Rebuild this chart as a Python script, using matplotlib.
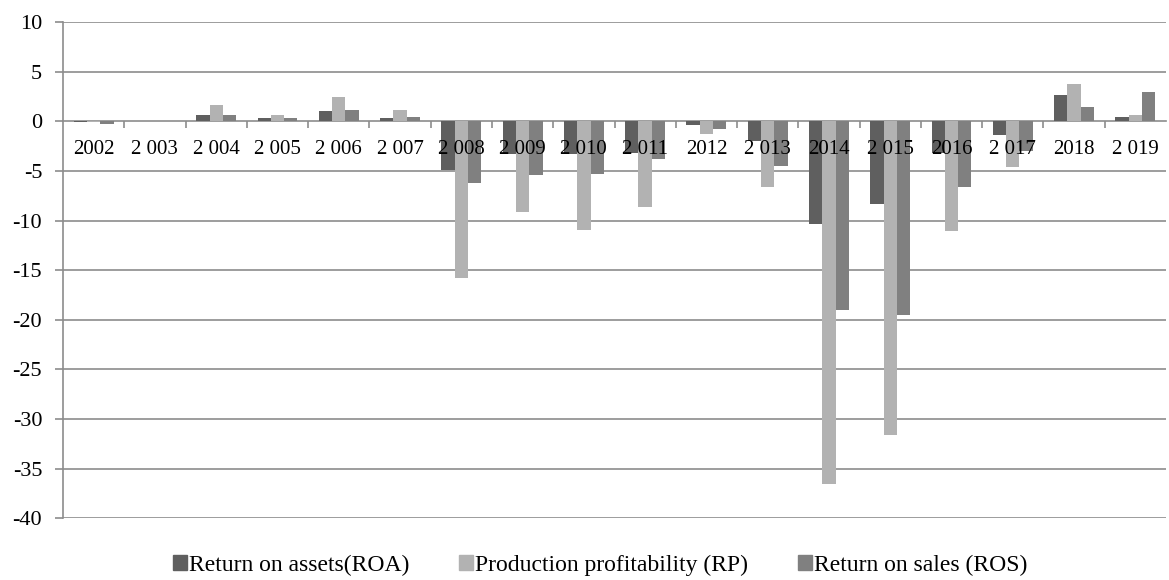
import numpy as np
import matplotlib.pyplot as plt
from matplotlib.patches import Patch

# Profitability indicators by year, %
years = ["2002", "2 003", "2 004", "2 005", "2 006", "2 007", "2 008", "2 009", "2 010",
         "2 011", "2012", "2 013", "2014", "2 015", "2016", "2 017", "2018", "2 019"]
roa = [-0.05, 0, 0.64, 0.3, 1.04, 0.37, -4.95, -3.3, -3.3,
       -3.2, -0.35, -2.0, -10.4, -8.3, -3.2, -1.35, 2.66, 0.44]
rp = [-0.1, 0, 1.62, 0.67, 2.46, 1.14, -15.8, -9.16, -10.94,
      -8.65, -1.3, -6.6, -36.5, -31.6, -11.1, -4.6, 3.74, 0.6]
ros = [-0.25, 0, 0.6, 0.34, 1.1, 0.44, -6.2, -5.45, -5.35,
       -3.83, -0.74, -4.5, -19.0, -19.5, -6.6, -3.0, 1.42, 2.96]

series = [("Return on assets(ROA)", roa, "#5f5f5f"),
          ("Production profitability (RP)", rp, "#b2b2b2"),
          ("Return on sales (ROS)", ros, "#808080")]

plt.rcParams["font.family"] = ["Liberation Serif", "DejaVu Serif"]

W, H = 1169, 580
fig = plt.figure(figsize=(W / 100, H / 100), dpi=100)
ax = fig.add_axes([63 / W, 1 - 518.3 / H, (1166 - 63) / W, (518.3 - 22) / H])

x = np.arange(len(years))
width = 0.217
for i, (name, vals, color) in enumerate(series):
    ax.bar(x + (i - 1) * width, vals, width, color=color, zorder=2)

ax.set_xlim(-0.5, len(years) - 0.5)
ax.set_ylim(-40, 10)
yticks = np.arange(-40, 11, 5)
for y in yticks:
    if y != 0:
        ax.axhline(y, color="#8c8c8c", lw=1.2, zorder=0)

# x axis sits on the zero line, labels go just under it
ax.spines["bottom"].set_position(("data", 0))
ax.spines["bottom"].set_color("#8c8c8c")
ax.spines["bottom"].set_linewidth(1.2)
ax.spines["bottom"].set_zorder(1)
ax.spines["left"].set_color("#8c8c8c")
ax.spines["left"].set_linewidth(1.2)
ax.spines["top"].set_visible(False)
ax.spines["right"].set_visible(False)

ax.set_xticks(np.arange(0.5, len(years) - 0.5, 1))
ax.set_xticklabels([])
ax.tick_params(axis="x", direction="out", length=5, color="#8c8c8c", width=1.2)
for xi, label in zip(x, years):
    ax.text(xi, -3.3, label, ha="center", va="baseline", fontsize=15, zorder=5)

ax.set_yticks(yticks)
ax.set_yticklabels([str(int(v)) for v in yticks], fontsize=16)
ax.tick_params(axis="y", direction="out", length=6, color="#8c8c8c", width=1.2, pad=9)

handles = [Patch(color=c, label=n) for n, _, c in series]
fig.legend(handles=handles, loc="center left", bbox_to_anchor=(173 / W, 1 - 565 / H),
           ncol=3, frameon=False, borderpad=0, borderaxespad=0,
           handlelength=0.6, handleheight=0.6, handletextpad=0.08,
           columnspacing=2.1, fontsize=17)

fig.savefig("out.png", dpi=100)
